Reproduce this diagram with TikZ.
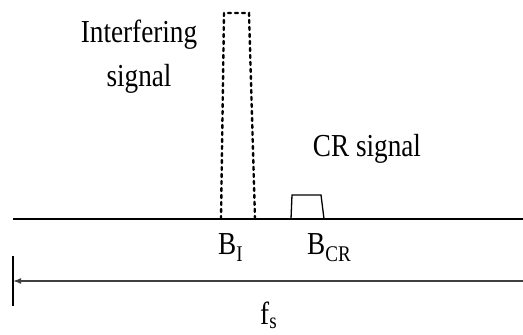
\documentclass[tikz,border=0pt]{standalone}
\usepackage{fontspec}
\setmainfont{Liberation Serif}[FakeStretch=0.85]
\usepackage{tikz}
\usetikzlibrary{positioning,arrows.meta}
\tikzset{
  lbl/.style={inner sep=0pt, font=\fontsize{32}{44}\selectfont},
  pulse/.style={line width=2.4pt, line cap=round, dash pattern=on 3pt off 4pt},
  band/.style={line width=1.3pt},
}
\begin{document}
\begin{tikzpicture}[x=1pt,y=1pt]
  \useasboundingbox (0,0) rectangle (523,335);
  % frequency axis
  \coordinate (axL) at (13,116);
  \coordinate (axR) at (523,116);
  \draw[line width=1.3pt] (axL) -- (axR);
  % interfering signal
  \coordinate (iA) at (221,116);
  \coordinate (iB) at (224,322);
  \coordinate (iC) at (249,322);
  \coordinate (iD) at (255,116);
  \draw[pulse] (iA) -- (iB) -- (iC) -- (iD);
  % CR signal
  \coordinate (cA) at (291,116);
  \coordinate (cB) at (292,140);
  \coordinate (cC) at (321,140);
  \coordinate (cD) at (324,116);
  \draw[band] (cA) -- (cB) -- (cC) -- (cD);
  % sampling span
  \coordinate (tkT) at (13,79);
  \coordinate (tkB) at (13,29);
  \coordinate (fsR) at (523,54);
  \coordinate (fsL) at (13,54);
  \draw[line width=1.2pt] (tkT) -- (tkB);
  \draw[line width=1.5pt, black!75, -{Latex[length=8pt,width=6pt]}] (fsR) -- (fsL);
  % labels
  \node[lbl, anchor=base, align=center] (intf) at (139,248) {Interfering\\signal};
  \node[lbl, anchor=base] (crs) at (367,178) {CR signal};
  \node[lbl, anchor=base west] (bi) at (218,80) {B\textsubscript{I}};
  \node[lbl, anchor=base west] (bcr) at (307,80) {B\textsubscript{CR}};
  \node[lbl, anchor=base west] (fs) at (260,10) {f\textsubscript{s}};
\end{tikzpicture}
\end{document}
